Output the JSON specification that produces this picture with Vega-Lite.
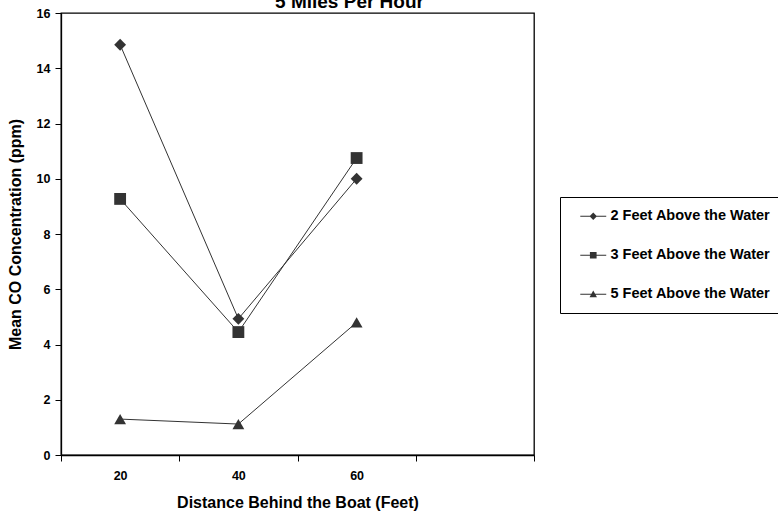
{
  "$schema": "https://vega.github.io/schema/vega-lite/v6.json",
  "width": 473,
  "height": 442,
  "autosize": {"type": "none"},
  "padding": {"left": 61, "top": 13, "right": 244, "bottom": 62},
  "background": "white",
  "config": {
    "font": "Liberation Sans",
    "view": {"stroke": "#000", "strokeWidth": 1.3},
    "axis": {
      "domainColor": "#000", "tickColor": "#000", "labelColor": "#000", "titleColor": "#000",
      "labelFont": "Liberation Sans", "titleFont": "Liberation Sans",
      "labelFontWeight": "bold", "titleFontWeight": "bold",
      "labelFontSize": 12.5, "titleFontSize": 16, "grid": false,
      "domainWidth": 1.3, "tickWidth": 1
    }
  },
  "title": {
    "text": "5 Miles Per Hour", "fontSize": 19, "fontWeight": "bold", "font": "Liberation Sans",
    "color": "#000", "anchor": "middle", "frame": "group", "dx": 52, "offset": -20, "baseline": "alphabetic"
  },
  "data": {
    "values": [
      {"distance": 20, "series": "2 Feet Above the Water", "co": 14.85},
      {"distance": 40, "series": "2 Feet Above the Water", "co": 4.93},
      {"distance": 60, "series": "2 Feet Above the Water", "co": 10.0},
      {"distance": 20, "series": "3 Feet Above the Water", "co": 9.27},
      {"distance": 40, "series": "3 Feet Above the Water", "co": 4.45},
      {"distance": 60, "series": "3 Feet Above the Water", "co": 10.75},
      {"distance": 20, "series": "5 Feet Above the Water", "co": 1.3},
      {"distance": 40, "series": "5 Feet Above the Water", "co": 1.12},
      {"distance": 60, "series": "5 Feet Above the Water", "co": 4.8}
    ]
  },
  "encoding": {
    "x": {
      "field": "distance", "type": "quantitative",
      "scale": {"domain": [10, 90], "nice": false, "zero": false},
      "axis": {
        "values": [10, 20, 30, 40, 50, 60, 70, 80, 90],
        "labelExpr": "datum.value == 20 || datum.value == 40 || datum.value == 60 ? datum.label : ''",
        "tickOpacity": {"condition": {"test": "datum.value % 20 == 0", "value": 0}, "value": 1},
        "tickSize": 6, "labelPadding": 8, "labelFlush": false, "labelOverlap": false,
        "title": "Distance Behind the Boat (Feet)", "titlePadding": 13
      }
    },
    "y": {
      "field": "co", "type": "quantitative",
      "scale": {"domain": [0, 16], "nice": false},
      "axis": {
        "values": [0, 2, 4, 6, 8, 10, 12, 14, 16], "format": "d",
        "tickSize": 6, "labelPadding": 5,
        "title": "Mean CO Concentration (ppm)", "titlePadding": 13
      }
    }
  },
  "layer": [
    {
      "mark": {"type": "line", "color": "#333", "strokeWidth": 1},
      "encoding": {"detail": {"field": "series", "type": "nominal"}}
    },
    {
      "mark": {"type": "point", "filled": true, "color": "#333", "size": 140, "opacity": 1},
      "encoding": {
        "shape": {
          "field": "series", "type": "nominal",
          "scale": {"range": ["diamond", "square", "triangle-up"]},
          "legend": null
        }
      }
    },
    {
      "mark": {"type": "point", "filled": true, "color": "#333", "opacity": 0, "size": 55},
      "encoding": {
        "shape": {
          "field": "series", "type": "nominal",
          "scale": {"range": [
            "M-3.5,-0.14H3.5V0.14H-3.5Z M0,-1L1,0L0,1L-1,0Z",
            "M-3.5,-0.14H3.5V0.14H-3.5Z M-0.9,-0.9H0.9V0.9H-0.9Z",
            "M-3.5,-0.14H3.5V0.14H-3.5Z M0,-1L1,0.8L-1,0.8Z"
          ]},
          "legend": {
            "title": null, "orient": "none", "legendX": 499, "legendY": 184,
            "strokeColor": "#000", "fillColor": "#fff", "padding": 12, "rowPadding": 24,
            "labelFontSize": 14.5, "labelFontWeight": "bold", "labelFont": "Liberation Sans", "labelColor": "#000",
            "symbolSize": 55, "symbolOpacity": 1, "symbolOffset": 14, "labelOffset": 10,
            "symbolFillColor": "#333"
          }
        }
      }
    }
  ],
  "resolve": {"scale": {"shape": "independent"}}
}
